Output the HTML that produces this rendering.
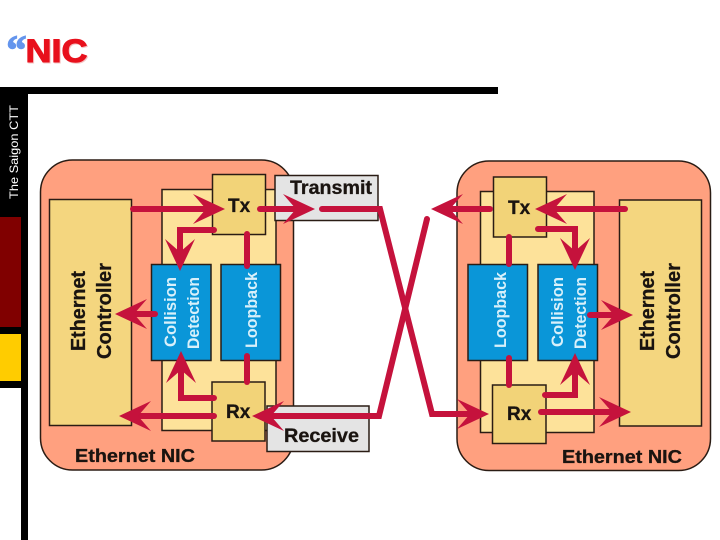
<!DOCTYPE html>
<html><head><meta charset="utf-8"><style>
html,body{margin:0;padding:0;background:#fff;width:720px;height:540px;overflow:hidden}
svg{display:block}
text{font-family:"Liberation Sans",sans-serif;font-weight:bold}
</style></head><body>
<svg width="720" height="540" viewBox="0 0 720 540" xmlns="http://www.w3.org/2000/svg">
<defs>
<g id="h"><polygon points="0,0 -32,-15 -19,0 -32,15"/></g>
</defs>
<!-- frame -->
<rect x="0" y="87" width="498" height="7" fill="#000"/>
<rect x="0" y="87" width="28" height="301" fill="#000"/>
<rect x="21" y="388" width="7" height="152" fill="#000"/>
<rect x="0" y="217" width="21" height="110" fill="#800000"/>
<rect x="0" y="334" width="21" height="47" fill="#ffcc00"/>
<text transform="translate(18,199) rotate(-90)" font-size="12" fill="#fff" style="font-weight:normal" textLength="94" lengthAdjust="spacingAndGlyphs">The Saigon CTT</text>
<!-- title -->
<text x="6.5" y="63" font-size="40" fill="#6495ed" stroke="#6495ed" stroke-width="1.4" style="font-family:'Liberation Serif',serif">“</text>
<text x="26.5" y="63" font-size="32" fill="#f4c4c4" stroke="#f4c4c4" stroke-width="1" textLength="62" lengthAdjust="spacingAndGlyphs">NIC</text>
<text x="25.500" y="62" font-size="32" fill="#e8101c" stroke="#e8101c" stroke-width="1" textLength="62" lengthAdjust="spacingAndGlyphs">NIC</text>

<g stroke="#2a1c14" stroke-width="1.5">
<!-- left NIC -->
<rect x="40.500" y="160" width="253" height="310" rx="32" fill="#ffa07f"/>
<rect x="49.500" y="199.500" width="82" height="226" fill="#f4d67f"/>
<rect x="162" y="189.500" width="114" height="241" fill="#fde29a"/>
<rect x="212.500" y="174.500" width="53" height="60" fill="#f2d378"/>
<rect x="212" y="382" width="53" height="59" fill="#f2d378"/>
<rect x="151.500" y="264.500" width="59.500" height="96" fill="#0a96d8"/>
<rect x="221" y="264.500" width="59.500" height="96" fill="#0a96d8"/>
<rect x="275" y="175.500" width="103" height="45" fill="#e4e4e4"/>
<rect x="267" y="406" width="102" height="45.500" fill="#e4e4e4"/>
<!-- right NIC -->
<rect x="457" y="161" width="253.500" height="309.500" rx="32" fill="#ffa07f"/>
<rect x="619.500" y="200" width="82" height="226" fill="#f4d67f"/>
<rect x="480.500" y="191.500" width="113.500" height="241" fill="#fde29a"/>
<rect x="493.500" y="177" width="53" height="60" fill="#f2d378"/>
<rect x="492.500" y="385" width="53.500" height="58.500" fill="#f2d378"/>
<rect x="468" y="264.500" width="59.500" height="96" fill="#0a96d8"/>
<rect x="538" y="264.500" width="59.500" height="96" fill="#0a96d8"/>
</g>

<!-- connectors -->
<g fill="none" stroke="#c5123c" stroke-width="6" stroke-linejoin="miter" stroke-linecap="round">
<path d="M133 209H205"/>
<path d="M260 209H295"/>
<path d="M322 209H380L432 414H470"/>
<path d="M427 219L379 416H270"/>
<path d="M450 209H490"/>
<path d="M625 209H550"/>
<path d="M214 230H180V255"/>
<path d="M538 229H575V255"/>
<path d="M247 234V266"/>
<path d="M247 356V382"/>
<path d="M509 237V264"/>
<path d="M509 358V385"/>
<path d="M155 314H135"/>
<path d="M590 315H615"/>
<path d="M214 398H181V370"/>
<path d="M545 395H575V370"/>
<path d="M214 416H135"/>
<path d="M541 412H615"/>
</g>
<g fill="#c5123c">
<use href="#h" transform="translate(225,209)"/>
<use href="#h" transform="translate(315,209)"/>
<use href="#h" transform="translate(489,414)"/>
<use href="#h" transform="translate(252,416) rotate(180)"/>
<use href="#h" transform="translate(431,209) rotate(180)"/>
<use href="#h" transform="translate(535,209) rotate(180)"/>
<use href="#h" transform="translate(180,271) rotate(90)"/>
<use href="#h" transform="translate(575,270) rotate(90)"/>
<use href="#h" transform="translate(115,314) rotate(180)"/>
<use href="#h" transform="translate(633,315)"/>
<use href="#h" transform="translate(181,351) rotate(-90)"/>
<use href="#h" transform="translate(575,353) rotate(-90)"/>
<use href="#h" transform="translate(119,416) rotate(180)"/>
<use href="#h" transform="translate(631,412)"/>
</g>

<!-- labels -->
<g fill="#1a1410" stroke="#1a1410" stroke-width="0.3">
<text x="228" y="212" font-size="19">Tx</text>
<text x="508" y="214" font-size="19">Tx</text>
<text x="226" y="418" font-size="19">Rx</text>
<text x="507" y="420" font-size="19">Rx</text>
<text x="290" y="194" font-size="19" textLength="82" lengthAdjust="spacingAndGlyphs">Transmit</text>
<text x="284" y="442" font-size="19" textLength="75" lengthAdjust="spacingAndGlyphs">Receive</text>
<text x="75" y="462" font-size="18" textLength="120" lengthAdjust="spacingAndGlyphs">Ethernet NIC</text>
<text x="562" y="463" font-size="18" textLength="120" lengthAdjust="spacingAndGlyphs">Ethernet NIC</text>
<text transform="translate(85,351) rotate(-90)" font-size="20" textLength="80" lengthAdjust="spacingAndGlyphs">Ethernet</text>
<text transform="translate(111,359) rotate(-90)" font-size="20" textLength="96" lengthAdjust="spacingAndGlyphs">Controller</text>
<text transform="translate(654,351) rotate(-90)" font-size="20" textLength="80" lengthAdjust="spacingAndGlyphs">Ethernet</text>
<text transform="translate(680,359) rotate(-90)" font-size="20" textLength="96" lengthAdjust="spacingAndGlyphs">Controller</text>
</g>
<g fill="#d8f0fa" font-size="17">
<text transform="translate(176,347) rotate(-90)" textLength="70" lengthAdjust="spacingAndGlyphs">Collision</text>
<text transform="translate(199,349) rotate(-90)" textLength="72" lengthAdjust="spacingAndGlyphs">Detection</text>
<text transform="translate(257,348) rotate(-90)" textLength="76" lengthAdjust="spacingAndGlyphs">Loopback</text>
<text transform="translate(506,348) rotate(-90)" textLength="76" lengthAdjust="spacingAndGlyphs">Loopback</text>
<text transform="translate(563,347) rotate(-90)" textLength="70" lengthAdjust="spacingAndGlyphs">Collision</text>
<text transform="translate(586,349) rotate(-90)" textLength="72" lengthAdjust="spacingAndGlyphs">Detection</text>
</g>
</svg>
</body></html>
